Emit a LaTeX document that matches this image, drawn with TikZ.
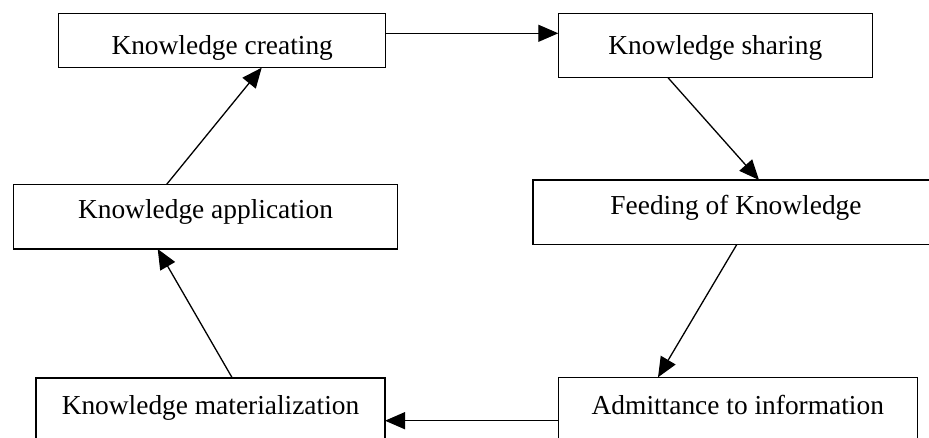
\documentclass[tikz,border=0pt]{standalone}
\usepackage{fontspec}
\setmainfont{Liberation Serif}
\usetikzlibrary{arrows.meta,calc}
\tikzset{
  kBox/.style={draw, line width=1.3pt, rectangle, anchor=north west, inner xsep=0pt, inner ysep=0pt, outer sep=0pt, font=\fontsize{27.4}{32}\selectfont},
  cycleArrow/.style={-{Triangle[length=20pt,width=17pt]}, line width=1.3pt}
}
\begin{document}
\begin{tikzpicture}[x=1pt,y=-1pt]
  \useasboundingbox (0,0) rectangle (929,438);
  \clip (0,0) rectangle (929,438);
  % boxes of the cycle
  \node[kBox, minimum width=327pt, text height=41pt, text depth=13.4pt] (creating) at (58.7,13.3) {Knowledge creating};
  \node[kBox, minimum width=314pt, text height=41pt, text depth=23.4pt] (sharing) at (558.3,13.3) {Knowledge sharing};
  \node[kBox, minimum width=406pt, text height=35pt, text depth=29.7pt] (feeding) at (533,180) {Feeding of Knowledge};
  \node[kBox, minimum width=384.4pt, text height=34pt, text depth=30.7pt] (application) at (13.3,184.3) {Knowledge application};
  \node[kBox, minimum width=349pt, text height=36pt, text depth=34pt] (materialization) at (36,378) {Knowledge materialization};
  \node[kBox, minimum width=359pt, text height=36.7pt, text depth=34pt] (admittance) at (558.3,377.3) {Admittance to information};
  % connectors
  \draw[cycleArrow] ($(creating.north east)+(0,20)$) -- ($(sharing.north west)+(0,20)$);
  \draw[cycleArrow] ($(sharing.south west)+(109.7,0)$) -- ($(feeding.north west)+(226,0)$);
  \draw[cycleArrow] ($(feeding.south west)+(203.7,0)$) -- ($(admittance.north west)+(99.7,0)$);
  \draw[cycleArrow] ($(admittance.north west)+(0,43.4)$) -- ($(materialization.north east)+(0,42.7)$);
  \draw[cycleArrow] ($(materialization.north west)+(196.3,0)$) -- ($(application.south west)+(144.4,0)$);
  \draw[cycleArrow] ($(application.north west)+(153.4,0)$) -- ($(creating.south west)+(203,0)$);
\end{tikzpicture}
\end{document}
